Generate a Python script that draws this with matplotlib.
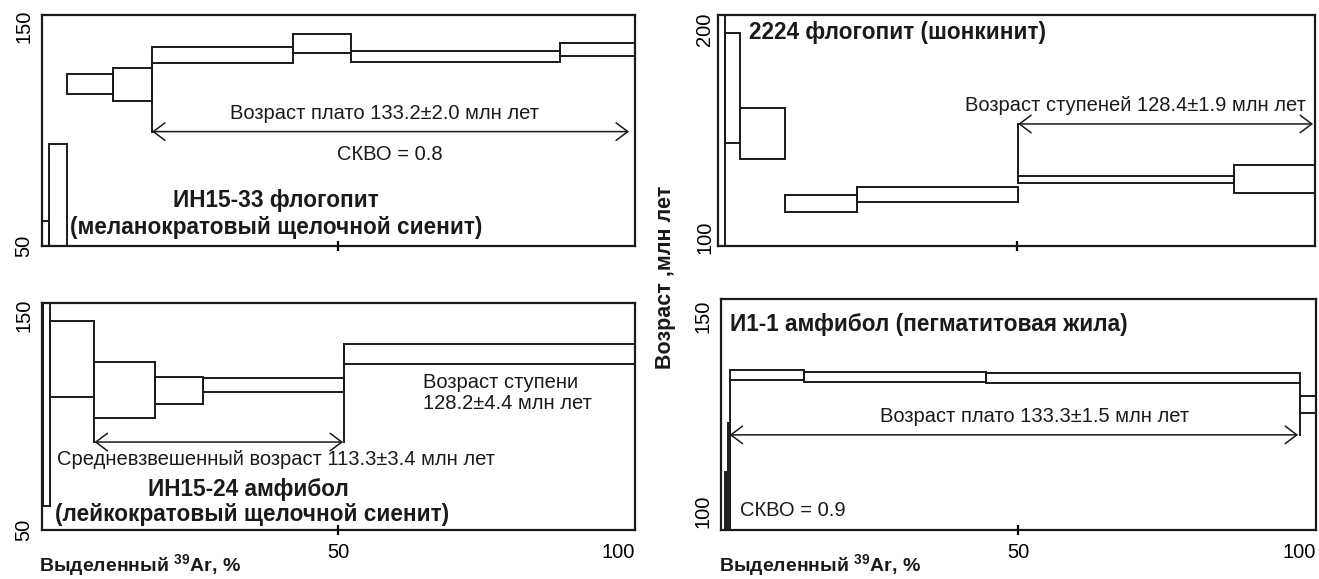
import matplotlib
matplotlib.use('Agg')
import matplotlib.pyplot as plt

plt.rcParams['font.family'] = ['Liberation Sans', 'DejaVu Sans']
plt.rcParams['mathtext.fontset'] = 'custom'
plt.rcParams['mathtext.rm'] = 'Liberation Sans'
plt.rcParams['mathtext.bf'] = 'Liberation Sans:bold'

INK = '#1a1a1a'
FS = 14.5      # regular annotations
FS_B = 16.3    # bold sample names

# ИН15-33 флогопит: step edges (% 39Ar) and age window (млн лет)
p1_x0 = [0.0, 1.3, 4.2, 12.1, 18.6, 42.3, 52.1, 87.4]
p1_x1 = [1.3, 4.2, 12.1, 18.6, 42.3, 52.1, 87.4, 100.0]
p1_lo = [30.0, 30.0, 118.9, 116.1, 133.3, 137.6, 133.6, 136.4]
p1_hi = [61.5, 96.4, 128.0, 130.8, 140.3, 146.4, 138.6, 142.1]
p1_arrow = [18.6, 99.0, 102.0]

# 2224 флогопит (шонкинит)
p2_x0 = [0.0, 1.1, 3.6, 11.1, 23.2, 50.2, 86.4]
p2_x1 = [1.1, 3.6, 11.1, 23.2, 50.2, 86.4, 100.0]
p2_lo = [60.0, 145.5, 137.7, 112.0, 116.8, 126.0, 121.5]
p2_hi = [260.0, 198.1, 162.3, 120.4, 124.0, 129.5, 134.8]
p2_arrow = [50.2, 99.6, 154.5]

# ИН15-24 амфибол
p3_x0 = [0.3, 1.4, 8.9, 19.1, 27.2, 51.0]
p3_x1 = [1.4, 8.9, 19.1, 27.2, 51.0, 100.0]
p3_lo = [61.2, 112.2, 102.1, 108.8, 114.5, 127.6]
p3_hi = [170.0, 147.5, 128.5, 121.1, 121.0, 136.9]
p3_arrow = [8.9, 50.8, 91.0]

# И1-1 амфибол (пегматитовая жила)
p4_x0 = [0.6, 1.2, 1.45, 14.0, 44.5, 97.4]
p4_x1 = [0.8, 1.45, 14.0, 44.5, 97.4, 100.0]
p4_lo = [60.0, 60.0, 133.6, 133.2, 132.9, 125.3]
p4_hi = [110.2, 122.6, 136.1, 135.7, 135.3, 129.6]
p4_arrow = [1.45, 97.0, 119.6]


def draw_steps(ax, x0, x1, lo, hi):
    widths = [b - a for a, b in zip(x0, x1)]
    heights = [h - l for l, h in zip(lo, hi)]
    ax.bar(x0, heights, width=widths, bottom=lo, align='edge',
           fill=False, edgecolor=INK, linewidth=1.4)


def draw_arrow(ax, arrow, marks):
    xa, xb, y = arrow
    ax.annotate('', xy=(xb, y), xytext=(xa, y),
                arrowprops=dict(arrowstyle='<->,head_length=0.6,head_width=0.45',
                                lw=1.1, color=INK, shrinkA=0, shrinkB=0,
                                mutation_scale=14))
    # vertical markers down from the boxes to the arrow
    for xm, ytop in marks:
        ax.plot([xm, xm], [y, ytop], color=INK, lw=1.4)


def setup(ax, ylim, yticks, xlabels):
    ax.set_xlim(0, 100)
    ax.set_ylim(*ylim)
    ax.set_yticks(yticks)
    ax.tick_params(axis='y', length=0, labelrotation=90, labelsize=FS, pad=6)
    plt.setp(ax.get_yticklabels(), va='center')
    for s in ax.spines.values():
        s.set_linewidth(1.6)
        s.set_color(INK)
    if xlabels:
        ax.set_xticks([50, 100])
        ax.set_xticklabels(['50', '100'])
        ax.get_xticklabels()[1].set_ha('right')
        ax.xaxis.get_major_ticks()[1].tick1line.set_visible(False)
        ax.tick_params(axis='x', direction='inout', length=7, width=1.6,
                       labelsize=FS, pad=6)
    else:
        ax.set_xticks([50])
        ax.set_xticklabels([])
        ax.tick_params(axis='x', direction='inout', length=7, width=1.6)


fig = plt.figure(figsize=(13.19, 5.79), dpi=100)
ax1 = fig.add_axes([0.0316, 0.5751, 0.4498, 0.399])
ax2 = fig.add_axes([0.5447, 0.5751, 0.4526, 0.399])
ax3 = fig.add_axes([0.0316, 0.0846, 0.4498, 0.392])
ax4 = fig.add_axes([0.5466, 0.0846, 0.4511, 0.399])

# top left
draw_steps(ax1, p1_x0, p1_x1, p1_lo, p1_hi)
draw_arrow(ax1, p1_arrow, [(18.6, 133.3)])
setup(ax1, (50, 155), [50, 150], False)
ax1.text(57.7, 110.3, 'Возраст плато 133.2±2.0 млн лет', ha='center', va='center', fontsize=FS, color=INK)
ax1.text(58.7, 91.8, 'СКВО = 0.8', ha='center', va='center', fontsize=FS, color=INK)
ax1.text(39.5, 70.9, 'ИН15-33 флогопит', ha='center', va='center', fontsize=FS_B, fontweight='bold', color=INK)
ax1.text(39.5, 58.3, '(меланократовый щелочной сиенит)', ha='center', va='center', fontsize=FS_B, fontweight='bold', color=INK)

# top right
draw_steps(ax2, p2_x0, p2_x1, p2_lo, p2_hi)
draw_arrow(ax2, p2_arrow, [(50.2, 129.5)])
setup(ax2, (95.8, 206.9), [100, 200], False)
ax2.tick_params(axis='y', pad=3)
ax2.text(69.8, 163.6, 'Возраст ступеней 128.4±1.9 млн лет', ha='center', va='center', fontsize=FS, color=INK)
ax2.text(5.1, 198.6, '2224 флогопит (шонкинит)', ha='left', va='center', fontsize=FS_B, fontweight='bold', color=INK)

# bottom left
draw_steps(ax3, p3_x0, p3_x1, p3_lo, p3_hi)
draw_arrow(ax3, p3_arrow, [(8.9, 102.1), (51.0, 136.9)])
setup(ax3, (50, 155.8), [50, 150], True)
ax3.text(64.2, 118.7, 'Возраст ступени', ha='left', va='center', fontsize=FS, color=INK)
ax3.text(64.2, 108.8, '128.2±4.4 млн лет', ha='left', va='center', fontsize=FS, color=INK)
ax3.text(39.5, 82.7, 'Средневзвешенный возраст 113.3±3.4 млн лет', ha='center', va='center', fontsize=FS, color=INK)
ax3.text(34.9, 69.1, 'ИН15-24 амфибол', ha='center', va='center', fontsize=FS_B, fontweight='bold', color=INK)
ax3.text(35.4, 57.0, '(лейкократовый щелочной сиенит)', ha='center', va='center', fontsize=FS_B, fontweight='bold', color=INK)

# bottom right
draw_steps(ax4, p4_x0, p4_x1, p4_lo, p4_hi)
draw_arrow(ax4, p4_arrow, [(1.45, 133.6), (97.4, 132.9)])
setup(ax4, (95.3, 154.3), [100, 150], True)
ax4.text(52.7, 124.2, 'Возраст плато 133.3±1.5 млн лет', ha='center', va='center', fontsize=FS, color=INK)
ax4.text(3.2, 100.4, 'СКВО = 0.9', ha='left', va='center', fontsize=FS, color=INK)
ax4.text(1.6, 147.8, 'И1-1 амфибол (пегматитовая жила)', ha='left', va='center', fontsize=FS_B, fontweight='bold', color=INK)

# axis titles
xlab = r'Выделенный $^{\mathbf{39}}$Ar, %'
fig.text(39 / 1319, 1 - 566 / 579, xlab, ha='left', va='center', fontsize=14, fontweight='bold', color=INK)
fig.text(719 / 1319, 1 - 566 / 579, xlab, ha='left', va='center', fontsize=14, fontweight='bold', color=INK)
fig.text(665 / 1319, 1 - 277 / 579, 'Возраст ,млн лет', rotation=90, ha='center', va='center',
         fontsize=15.5, fontweight='bold', color=INK)

fig.savefig('out.png', dpi=100)
